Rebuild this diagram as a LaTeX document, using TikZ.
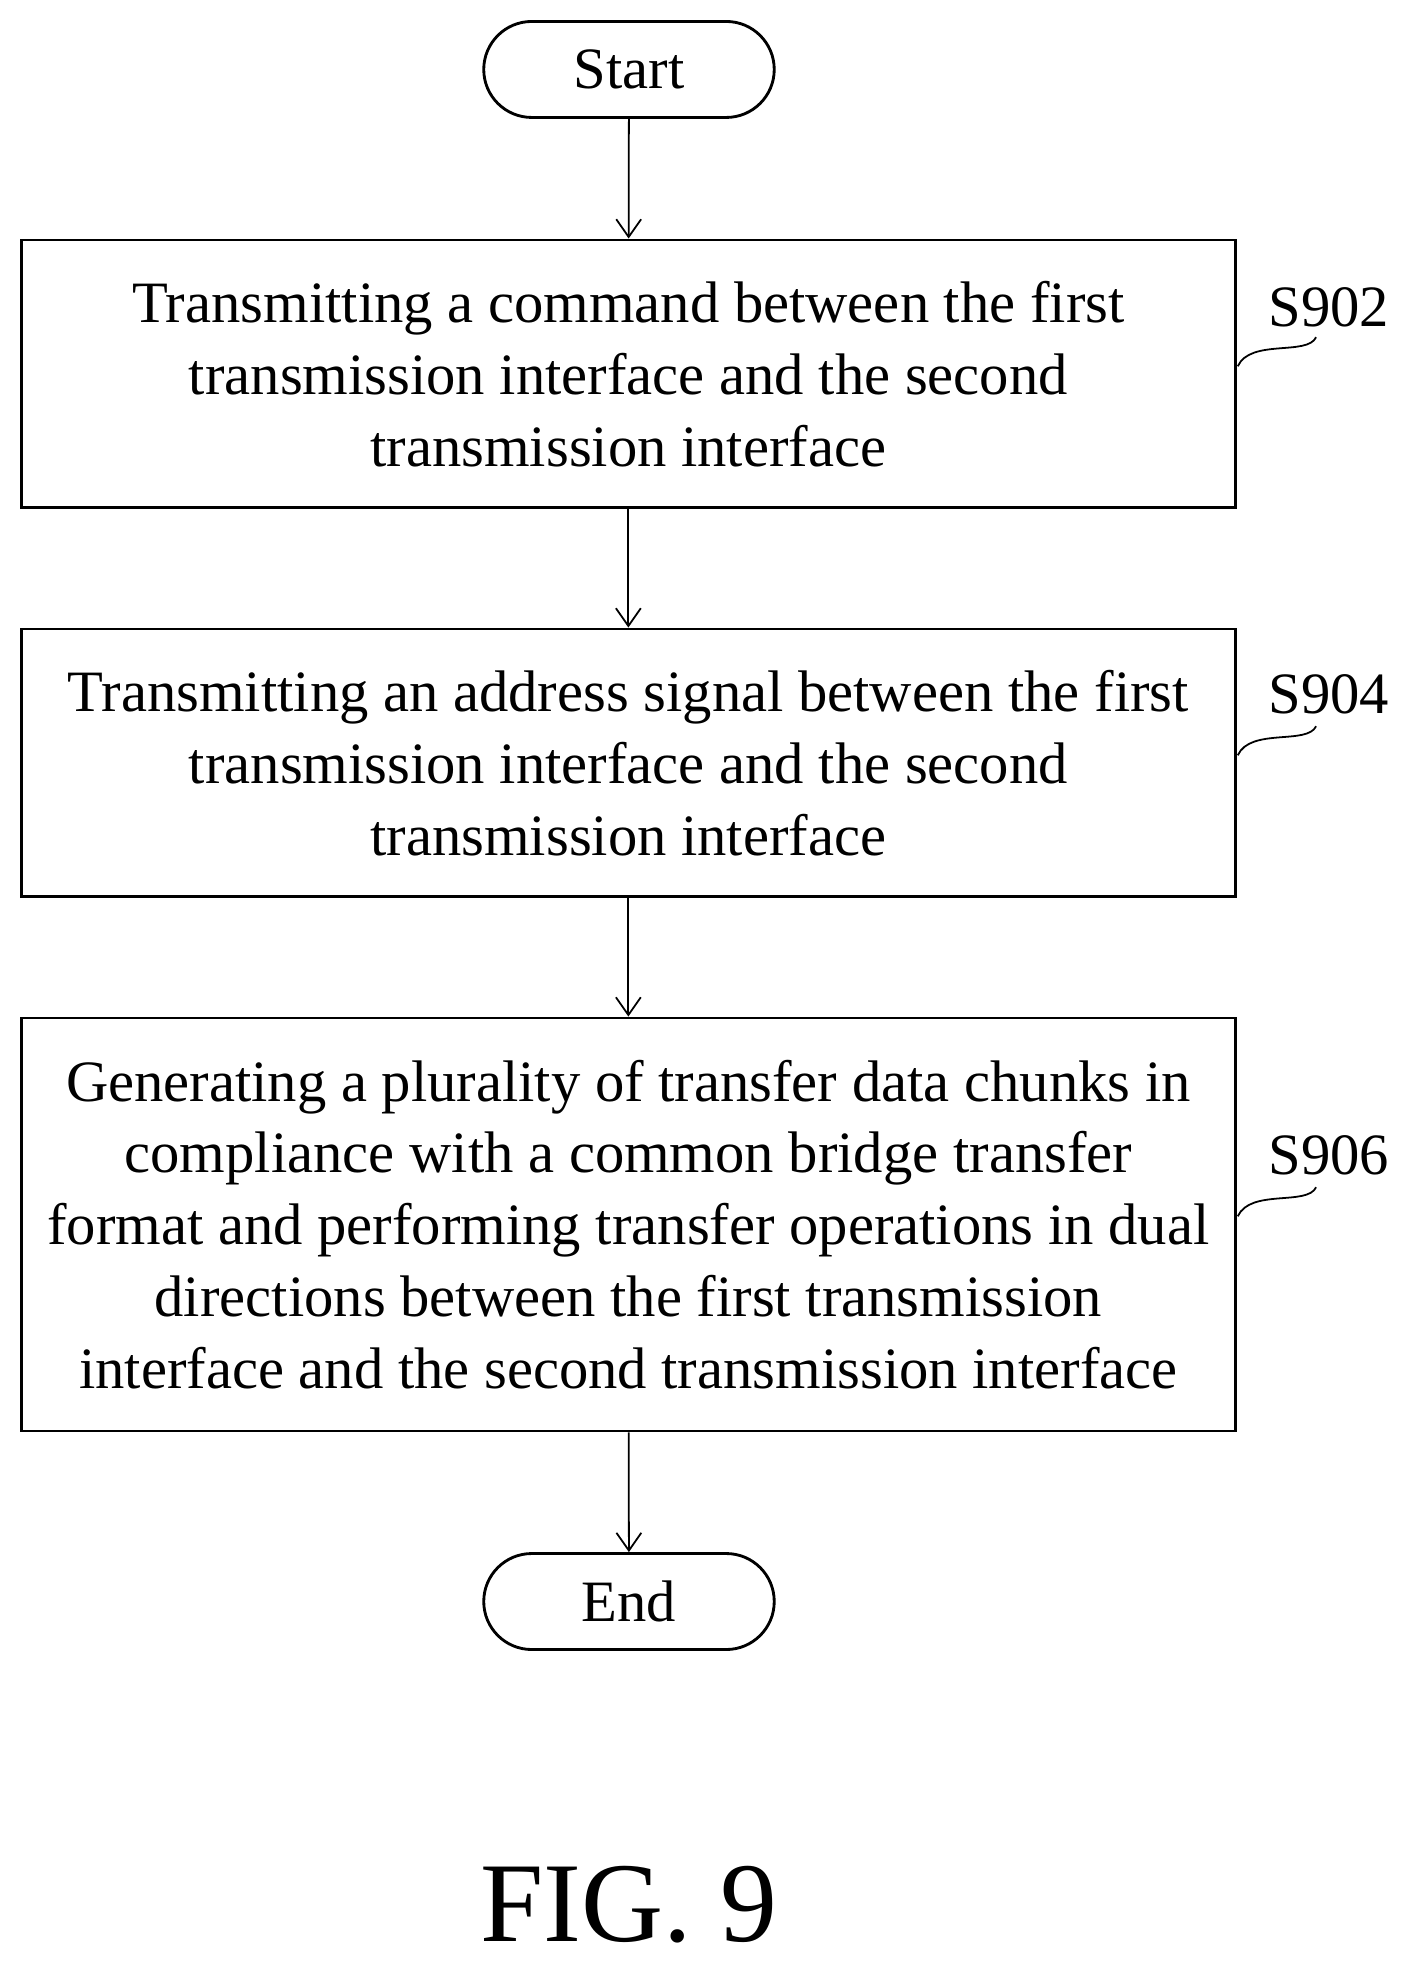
\documentclass[tikz,border=0pt]{standalone}
\usepackage{fontspec}
\usetikzlibrary{arrows.meta}
\setmainfont{Liberation Serif}
\begin{document}
\begin{tikzpicture}[x=0.025cm,y=-0.025cm,
  every node/.style={font=\fontsize{33}{40.5}\selectfont},
  stepbox/.style={draw,line width=1.6pt,minimum width=961*0.025cm,align=center,inner sep=0pt},
  term/.style={draw,line width=1.6pt,rounded corners=38*0.025cm,minimum width=230*0.025cm,minimum height=76*0.025cm},
  arr/.style={line width=1pt,-{Straight Barb[length=10pt,width=14pt]}},
  lbl/.style={line width=1pt}]
\useasboundingbox (0,0) rectangle (1110,1555);
\node[term] (start) at (498,55) {Start};
\node[stepbox,minimum height=212*0.025cm] (b1) at (497.5,296) {Transmitting a command between the first\\transmission interface and the second\\transmission interface};
\node[stepbox,minimum height=212*0.025cm] (b2) at (497.5,604) {Transmitting an address signal between the first\\transmission interface and the second\\transmission interface};
\node[stepbox,minimum height=327*0.025cm] (b3) at (497.5,969.5) {Generating a plurality of transfer data chunks in\\compliance with a common bridge transfer\\format and performing transfer operations in dual\\directions between the first transmission\\interface and the second transmission interface};
\node[term] (end) at (498,1268) {End};
\draw[arr] (start) -- (b1);
\draw[arr] (b1) -- (b2);
\draw[arr] (b2) -- (b3);
\draw[arr] (b3) -- (end);
\node (l1) at (1052,243) {S902};
\node (l2) at (1052,550) {S904};
\node (l3) at (1052,915) {S906};
\foreach \y/\n in {290/1,598/2,963/3}{
  \coordinate (s\n) at (980,\y);
  \coordinate (e\n) at (1042,\y-23);
  \draw[lbl] (s\n) .. controls (990,\y-22) and (1035,\y-8) .. (e\n);
}
\node[font=\fontsize{64}{72}\selectfont] (fig) at (498,1508) {FIG. 9};
\end{tikzpicture}
\end{document}
